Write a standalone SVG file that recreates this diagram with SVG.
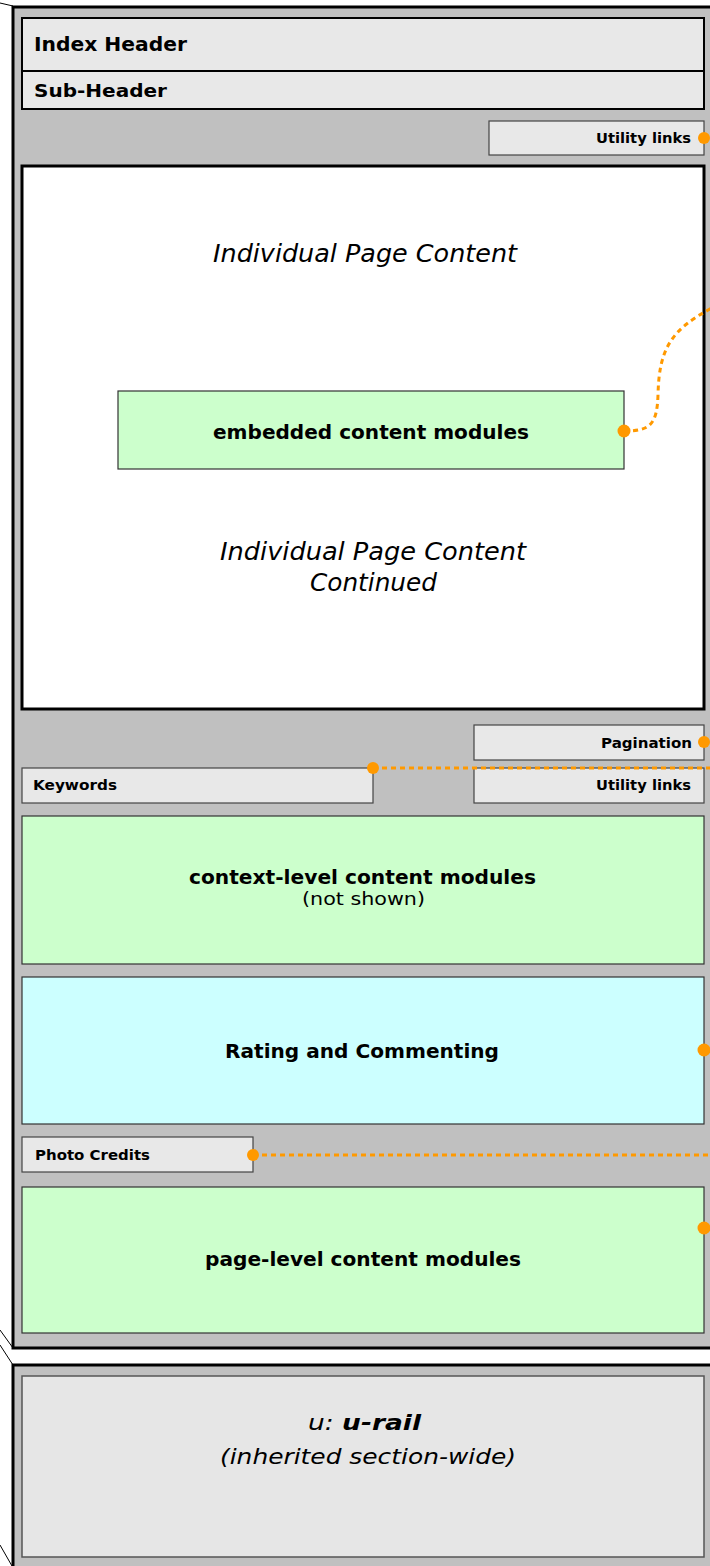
<svg xmlns="http://www.w3.org/2000/svg" width="710" height="1566" viewBox="0 0 710 1566">
<style>
.panel{fill:#c0c0c0;stroke:#000;stroke-width:3}
.hdr{fill:#e8e8e8;stroke:#000;stroke-width:2}
.small{fill:#e8e8e8;stroke:#444;stroke-width:1.2}
.green{fill:#ccffcc;stroke:#333;stroke-width:1.2}
.cyan{fill:#ccffff;stroke:#333;stroke-width:1.2}
.urail{fill:#e6e6e6;stroke:#555;stroke-width:1.5}
.content{fill:#fff;stroke:#000;stroke-width:3}
.t{font-family:"DejaVu Sans",Verdana,sans-serif;fill:#000}
.b{font-weight:bold}
.i{font-style:italic}
.dot{fill:#ff9900}
.dash{fill:none;stroke:#ff9900;stroke-width:3;stroke-dasharray:5,4}
.thin{stroke:#000;stroke-width:1;fill:none}
</style>
<rect x="0" y="0" width="710" height="1566" fill="#fff"/>
<g id="panel-main">
<rect class="panel" x="13" y="7" width="710" height="1341"/>
</g>
<g id="panel-urail">
<rect class="panel" x="13" y="1365" width="710" height="220"/>
</g>
<g id="guides">
<line class="thin" x1="0" y1="3" x2="13" y2="6"/>
<line class="thin" x1="0" y1="1330" x2="13" y2="1348"/>
<line class="thin" x1="0" y1="1345" x2="13" y2="1365"/>
<line class="thin" x1="0" y1="1545" x2="12" y2="1566"/>
</g>
<g id="index-header">
<rect class="hdr" x="22" y="18" width="682" height="53"/>
<text class="t b" x="34" y="51" font-size="19" textLength="153" lengthAdjust="spacingAndGlyphs">Index Header</text>
</g>
<g id="sub-header">
<rect class="hdr" x="22" y="71" width="682" height="38"/>
<text class="t b" x="34" y="97" font-size="18" textLength="133" lengthAdjust="spacingAndGlyphs">Sub-Header</text>
</g>
<g id="utility-links-top">
<rect class="small" x="489" y="121" width="215" height="34"/>
<text class="t b" x="596" y="143" font-size="14" textLength="95" lengthAdjust="spacingAndGlyphs">Utility links</text>
</g>
<g id="page-content">
<rect class="content" x="22" y="166" width="682" height="543"/>
<text class="t i" x="213" y="262" font-size="24" textLength="304" lengthAdjust="spacingAndGlyphs">Individual Page Content</text>
<text class="t i" x="220" y="560" font-size="24" textLength="306" lengthAdjust="spacingAndGlyphs">Individual Page Content</text>
<text class="t i" x="310" y="591" font-size="24" textLength="127" lengthAdjust="spacingAndGlyphs">Continued</text>
</g>
<g id="embedded-modules">
<rect class="green" x="118" y="391" width="506" height="78"/>
<text class="t b" x="213" y="439" font-size="19" textLength="316" lengthAdjust="spacingAndGlyphs">embedded content modules</text>
</g>
<g id="pagination">
<rect class="small" x="474" y="725" width="230" height="35"/>
<text class="t b" x="601" y="748" font-size="14" textLength="91" lengthAdjust="spacingAndGlyphs">Pagination</text>
</g>
<g id="keywords">
<rect class="small" x="22" y="768" width="351" height="35"/>
<text class="t b" x="33" y="790" font-size="14" textLength="84" lengthAdjust="spacingAndGlyphs">Keywords</text>
</g>
<g id="utility-links-bottom">
<rect class="small" x="474" y="768" width="230" height="35"/>
<text class="t b" x="596" y="790" font-size="14" textLength="95" lengthAdjust="spacingAndGlyphs">Utility links</text>
</g>
<g id="context-modules">
<rect class="green" x="22" y="816" width="682" height="148"/>
<text class="t b" x="189" y="884" font-size="19" textLength="347" lengthAdjust="spacingAndGlyphs">context-level content modules</text>
<text class="t" x="302" y="905" font-size="17" textLength="123" lengthAdjust="spacingAndGlyphs">(not shown)</text>
</g>
<g id="rating-commenting">
<rect class="cyan" x="22" y="977" width="682" height="147"/>
<text class="t b" x="225" y="1058" font-size="20" textLength="274" lengthAdjust="spacingAndGlyphs">Rating and Commenting</text>
</g>
<g id="photo-credits">
<rect class="small" x="22" y="1137" width="231" height="35"/>
<text class="t b" x="35" y="1160" font-size="14" textLength="115" lengthAdjust="spacingAndGlyphs">Photo Credits</text>
</g>
<g id="page-modules">
<rect class="green" x="22" y="1187" width="682" height="146"/>
<text class="t b" x="205" y="1266" font-size="19" textLength="316" lengthAdjust="spacingAndGlyphs">page-level content modules</text>
</g>
<g id="urail">
<rect class="urail" x="22" y="1376" width="682" height="181"/>
<text class="t i" x="308" y="1430" font-size="22" textLength="113" lengthAdjust="spacingAndGlyphs">u: <tspan class="b">u-rail</tspan></text>
<text class="t i" x="220" y="1464" font-size="22" textLength="296" lengthAdjust="spacingAndGlyphs">(inherited section-wide)</text>
</g>
<g id="connectors">
<path class="dash" d="M624,431 C650,431 657,425 658,395 C659,350 670,330 712,308"/>
<line class="dash" x1="373" y1="768" x2="710" y2="768"/>
<line class="dash" x1="253" y1="1155" x2="710" y2="1155"/>
<circle class="dot" cx="704" cy="138" r="6"/>
<circle class="dot" cx="624" cy="431" r="6.5"/>
<circle class="dot" cx="704" cy="742" r="6"/>
<circle class="dot" cx="373" cy="768" r="6"/>
<circle class="dot" cx="704" cy="1050" r="6.5"/>
<circle class="dot" cx="253" cy="1155" r="6"/>
<circle class="dot" cx="704" cy="1228" r="6.5"/>
</g>
</svg>
